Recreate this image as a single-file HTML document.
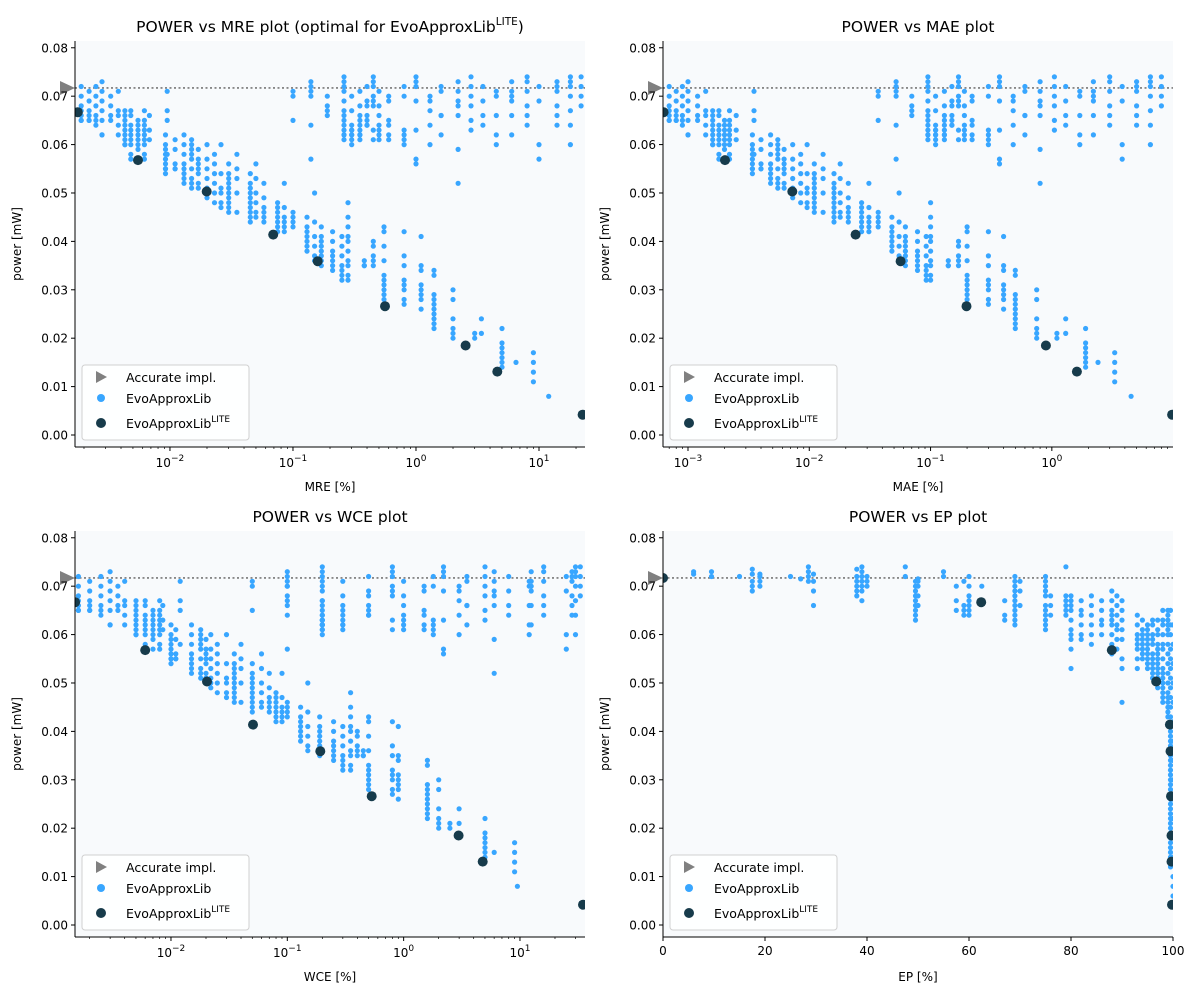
<!DOCTYPE html>
<html><head><meta charset="utf-8"><style>
html,body{margin:0;padding:0;background:#fff;}
svg{display:block;font-family:"DejaVu Sans","Liberation Sans",sans-serif;}
</style></head><body>
<svg id="chart" width="1200" height="1000" viewBox="0 0 1200 1000" xmlns="http://www.w3.org/2000/svg"></svg>
<script>
// ---- data (power values in units of 1e-3 mW) ----
const groupPower = [
[72,70,68,67,66,65,65],[71,69,67,66,65,65],[72,70,68,66,65,64],[73,71,69,67,65,62,62],[70,68,66,65],
[71,67,66,64,62],[67,66,65,64,63,62,61,60,60],[67,66,64,63,62,61,60,58,57],[65,64,63,62,61,60,59,57],[67,65,64,63,62,61,60,58,57],
[66,63,61],[62,60,59,58,57,56,55,55,54],[71,67,65,58],[61,59,56,55,55],[62,60,58,56,55,54,53,52],
[61,60,59,58,57,55,53,52,51],[59,57,56,55,54,52,51],[60,57,55,53,51,50,49],[58,56,54,52,50,48],[60,54,51,50,48,47],
[56,54,53,52,51,50,49,48,47,46],[58,55,53,50,46],[54,52,51,50,49,48,47,46,45,44],[56,53,50,48,46,45],[52,49,47,46,45,44],
[48,47,46,45,44,43,42],[52,47,45,44,43,42],[46,45,44,43],[45,43,42,41,40,39,38],[50,44,41,39,37,36],
[43,41,40,39,38,37,36,35],[42,40,38,37,36,35,34],[41,39,37,35,34,33,32],[48,45,43,41,40,38,36,35,33,32],[36,35,35],
[40,39,37,36,35],[43,42,39,36,33,32,31,30,29,28],[42,37,35,32,31,30,28,27],[41,35,34,31,30,29,28,26],[34,33,29,28,27,26,25,24,23,22],
[30,28,24,22,21,20],[21,20],[24,21],[22,19,18,17,16,15,14],[15],[17,15,13,11],[8],
[71,70,65],[73,72,71,70,64,57],[70,68,67,66],[74,73,72,71,69,67,66,65,64,63,62,62,61],[70,67,64,63,63,62,62,61,60],
[71,68,66,65,64,63,62,62,61],[72,69,68,66,65,64,64],[74,73,72,70,69,68,63,61],[71,68,66,64,63,62,61],[70,69,65,64,62,61],
[72,70,63,62,61,60],[74,73,72,69,63,57,56],[70,69,67,64,60],[72,71,66,66,62],[73,71,69,68,66,59,52],
[74,72,70,68,65,63],[72,69,66,64],[71,70,66,62,60],[73,71,70,69,66,62],[74,73,71,68,66,64],
[72,69,60,57],[73,72,71,68,66,64],[74,73,72,70,67,64,60],[74,72,70,68]
];
const groupMRE = [0.0019,0.0022,0.0025,0.0028,0.0033,0.0038,0.0043,0.0048,0.0055,0.0062,0.0068,0.0092,0.0095,0.011,0.013,0.015,0.017,0.02,0.023,0.026,0.03,0.035,0.045,0.05,0.058,0.075,0.085,0.1,0.13,0.15,0.17,0.21,0.25,0.28,0.38,0.45,0.55,0.8,1.1,1.4,2,3,3.4,5,6.5,9,12,
0.1,0.14,0.19,0.26,0.3,0.35,0.4,0.45,0.5,0.6,0.8,1.0,1.3,1.6,2.2,2.8,3.5,4.5,6,8,10,14,18,22];
const groupMAE = [0.0007,0.0008,0.0009,0.001,0.0012,0.0014,0.0016,0.0018,0.002,0.0022,0.0025,0.0034,0.0035,0.004,0.0048,0.0055,0.0062,0.0073,0.0085,0.0096,0.011,0.013,0.016,0.018,0.021,0.027,0.031,0.037,0.048,0.055,0.062,0.078,0.092,0.1,0.14,0.17,0.2,0.3,0.4,0.5,0.75,1.1,1.3,1.9,2.4,3.3,4.5,
0.037,0.052,0.07,0.095,0.11,0.13,0.15,0.17,0.19,0.22,0.3,0.37,0.48,0.6,0.8,1.05,1.3,1.7,2.2,3,3.8,5,6.5,8];
const groupWCE = [0.0016,0.002,0.0025,0.003,0.0035,0.004,0.005,0.006,0.007,0.008,0.0085,0.01,0.012,0.011,0.015,0.018,0.02,0.022,0.025,0.03,0.035,0.04,0.05,0.06,0.07,0.08,0.09,0.1,0.13,0.15,0.19,0.25,0.3,0.35,0.45,0.4,0.5,0.8,0.9,1.6,2,2.5,3,5,6,9,9.5,
0.05,0.1,0.1,0.2,0.2,0.3,0.5,0.8,1,1.5,1.8,2.2,3,3.5,6,5,8,12,12.5,16,25,28,30,33];
const epValues = [6,9.5,15,17.5,19,25,27,28.5,29.5,38,39,40,47.5,49.5,50,55,57.5,59,60,62.5,67,69,70,75,76,79,80,82,84,86,88,89,90,93,94,95,96,97,98,99,99.5,100];
const epPower = [
[73,72.5],[73,72],[72],[73.5,72.5,71,70,69],[72.5,72,71,70],[72],[71.5],[74,73,72,71],[72.5,71,69,66],[73.5,72,71,70,69,68],
[74,73,72,71,70,69,67],[72,71,70],[74,72],[71,70,69,68,67,66,65,64,63],[71.5,71,70,68,66],[73,72],[70,67,65],[71,66,65,64],[72,70,68,67,66,65,64],[70,67],
[67,64,63],[72,71,70,69,68,67,66,65,64,63,62],[71,69,66],[72,71,70,69,68,66,65,64,63,62,61],[68,66,64],[74,68,67,66,65,64],[68,67,66,65,63,61,60,59,57,53],[67,65,64,62,60,59],[68,66,64,62,60,58],[67,65,63,62,60],
[69,67,65,64,63,62,60,58,57,56],[68,66,64,62,61,59,57],[67,65,63,61,59,55,53,46],[64,62,60,59,58,57,55,53],[63,61,60,59,58,57,56,55],[62,61,60,59,58,57,56,55,54,53],[63,62,60,59,58,56,55,54,53,52,51],[63,61,60,58,57,56,55,54,53,52,51,50,49],[65,63,62,60,58,57,55,53,52,51,50,49,48,47,46],[65,64,63,62,61,60,58,56,54,52,50,48,47,46,45,44,43],
[65,62,60,57,55,53,51,49,47,45,43,41,40,39,38,37,36,35,34,33,32,31,30,29,28,27,26,25,24,23,22,21,20,19,18,17,16,15,14,13,12],
[62,58,54,50,46,42,38,34,30,26,22,18,14,10,8,6,4]
];
const litePower = [66.7,56.8,50.3,41.4,35.9,26.6,18.5,13.1,4.2];
const liteMRE = [0.00178,0.0055,0.0199,0.069,0.159,0.56,2.53,4.58,22.6];
const liteMAE = [0.00063,0.00202,0.00724,0.0241,0.0566,0.198,0.893,1.61,9.8];
const liteWCE = [0.0015,0.006,0.0204,0.0507,0.192,0.531,2.97,4.78,34.8];
const liteEPPower = [71.7,66.7,56.8,50.3,41.4,35.9,26.6,18.5,13.1,4.2];
const liteEP = [0,62.4,88,96.7,99.4,99.5,99.6,99.7,99.7,99.8];
const accuratePower = 71.7;
const yTicks = [0,0.01,0.02,0.03,0.04,0.05,0.06,0.07,0.08];
const epTicks = [0,20,40,60,80,100];

const NS = "http://www.w3.org/2000/svg";
const svg = document.getElementById('chart');
function mk(tag, attrs, parent){ const e=document.createElementNS(NS,tag); for(const k in attrs) e.setAttribute(k,attrs[k]); (parent||svg).appendChild(e); return e; }
const BLUE="#38a6ff", DARK="#173b4b";

function panel(cfg, idx){
  const g = mk('g',{});
  
  
  const L=cfg.left,R=cfg.right,T=cfg.top,B=cfg.bottom;
  const yMin=-0.00248,yMax=0.0814;
  const ys=v=>B-(v-yMin)/(yMax-yMin)*(B-T);
  const xs = cfg.log ? v=>L+(Math.log10(v)-cfg.x0)/(cfg.x1-cfg.x0)*(R-L) : v=>L+(v-cfg.x0)/(cfg.x1-cfg.x0)*(R-L);
  const bg = mk('rect',{x:L,y:T,width:R-L,height:B-T,fill:'#f8fafc'},g);
  
  
  const cp = mk('clipPath',{id:'clip'+idx},g); mk('rect',{x:L,y:T,width:R-L,height:B-T},cp);
  const al = mk('line',{x1:L,x2:R,y1:ys(accuratePower/1000),y2:ys(accuratePower/1000),stroke:'#777',"stroke-width":1.6,"stroke-dasharray":"2,2.5"},g);
  
  
  const pts = mk('g',{"clip-path":`url(#clip${idx})`},g);
  
  
  cfg.xsArr.forEach((x,i)=>{ cfg.ysArr[i].forEach(p=>{
    const c=mk('circle',{cx:xs(x).toFixed(1),cy:ys(p/1000).toFixed(1),r:2.6,fill:BLUE},pts);
    
    
  });});
  const lp = mk('g',{"clip-path":`url(#clip${idx})`},g);
  cfg.liteX.forEach((x,i)=>{
    const c=mk('circle',{cx:xs(x).toFixed(1),cy:ys(cfg.liteY[i]/1000).toFixed(1),r:5,fill:DARK},lp);
    
    
  });
  const ay=ys(accuratePower/1000);
  const tri=mk('polygon',{points:`${L-15},${ay-7} ${L},${ay} ${L-15},${ay+7}`,fill:'#808080'},g);
  
  
  mk('line',{x1:L,x2:L,y1:T,y2:B,stroke:'#000',"stroke-width":1},g);
  mk('line',{x1:L,x2:R,y1:B,y2:B,stroke:'#000',"stroke-width":1},g);
  yTicks.forEach(v=>{
    const y=ys(v);
    mk('line',{x1:L-4,x2:L,y1:y,y2:y,stroke:'#000'},g);
    const t=mk('text',{x:L-7,y:y+4.5,"text-anchor":"end","font-size":12,fill:'#000'},g);
    t.textContent=v.toFixed(2);
    
    
  });
  if(cfg.log){
    for(let d=Math.floor(cfg.x0); d<=Math.ceil(cfg.x1); d++){
      for(let k=1;k<=9;k++){
        const lv=d+Math.log10(k); if(lv<cfg.x0||lv>cfg.x1) continue;
        const x=xs(Math.pow(10,lv));
        mk('line',{x1:x,x2:x,y1:B,y2:B+(k==1?4:2),stroke:'#000',"stroke-width":k==1?1:0.7},g);
        if(k==1){
          const t=mk('text',{x:x,y:B+20,"text-anchor":"middle","font-size":12},g);
          
          
          const a=mk('tspan',{},t); a.textContent='10';
          const b=mk('tspan',{dy:-6,"font-size":9}, t); b.textContent=(d<0?'\u2212'+(-d):String(d));
        }
      }
    }
  } else {
    epTicks.forEach(v=>{
      const x=xs(v);
      mk('line',{x1:x,x2:x,y1:B,y2:B+4,stroke:'#000'},g);
      const t=mk('text',{x:x,y:B+18,"text-anchor":"middle","font-size":12},g);
      t.textContent=v;
      
      
    });
  }
  const xl=mk('text',{x:(L+R)/2,y:B+44,"text-anchor":"middle","font-size":12},g);
  xl.textContent=cfg.xlabel;
  
  
  const yl=mk('text',{x:0,y:0,"text-anchor":"middle","font-size":12,transform:`translate(${L-54},${(T+B)/2}) rotate(-90)`},g);
  yl.textContent='power [mW]';
  
  
  const tt=mk('text',{x:(L+R)/2,y:T-9,"text-anchor":"middle","font-size":15.5},g);
  
  
  const t1=mk('tspan',{},tt); t1.textContent=cfg.title;
  if(cfg.titleSup){ const s=mk('tspan',{dy:-7,"font-size":10.5},tt); s.textContent='LITE'; const e=mk('tspan',{dy:7},tt); e.textContent=')'; }
  const lg=mk('g',{},g);
  
  
  mk('rect',{x:L+7,y:B-82,width:167,height:75,rx:3,fill:'#fff',"fill-opacity":0.85,stroke:'#d0d0d0'},lg);
  const lx=L+26, y0=B-70;
  mk('polygon',{points:`${lx-5},${y0-6} ${lx+6},${y0} ${lx-5},${y0+6}`,fill:'#808080'},lg);
  mk('circle',{cx:lx,cy:y0+21,r:4,fill:BLUE},lg);
  mk('circle',{cx:lx,cy:y0+46,r:5,fill:DARK},lg);
  const e1=mk('text',{x:L+51,y:y0+5,"font-size":12.5},lg); e1.textContent='Accurate impl.';
  
  
  const e2=mk('text',{x:L+51,y:y0+26,"font-size":12.5},lg); e2.textContent='EvoApproxLib';
  
  
  const e3=mk('text',{x:L+51,y:y0+51,"font-size":12.5},lg);
  
  
  const e3a=mk('tspan',{},e3); e3a.textContent='EvoApproxLib';
  const e3b=mk('tspan',{dy:-6,"font-size":9},e3); e3b.textContent='LITE';
}

panel({name:'panel-power-vs-mre',left:75,right:585,top:41,bottom:447,log:true,x0:-2.772,x1:1.374,title:'POWER vs MRE plot (optimal for EvoApproxLib',titleSup:true,xlabel:'MRE [%]',xsArr:groupMRE,ysArr:groupPower,liteX:liteMRE,liteY:litePower},0);
panel({name:'panel-power-vs-mae',left:663,right:1173,top:41,bottom:447,log:true,x0:-3.206,x1:0.999,title:'POWER vs MAE plot',xlabel:'MAE [%]',xsArr:groupMAE,ysArr:groupPower,liteX:liteMAE,liteY:litePower},1);
panel({name:'panel-power-vs-wce',left:75,right:585,top:531,bottom:937,log:true,x0:-2.825,x1:1.559,title:'POWER vs WCE plot',xlabel:'WCE [%]',xsArr:groupWCE,ysArr:groupPower,liteX:liteWCE,liteY:litePower},2);
panel({name:'panel-power-vs-ep',left:663,right:1173,top:531,bottom:937,log:false,x0:0,x1:100,title:'POWER vs EP plot',xlabel:'EP [%]',xsArr:epValues,ysArr:epPower,liteX:liteEP,liteY:liteEPPower},3);
</script>
</body></html>
